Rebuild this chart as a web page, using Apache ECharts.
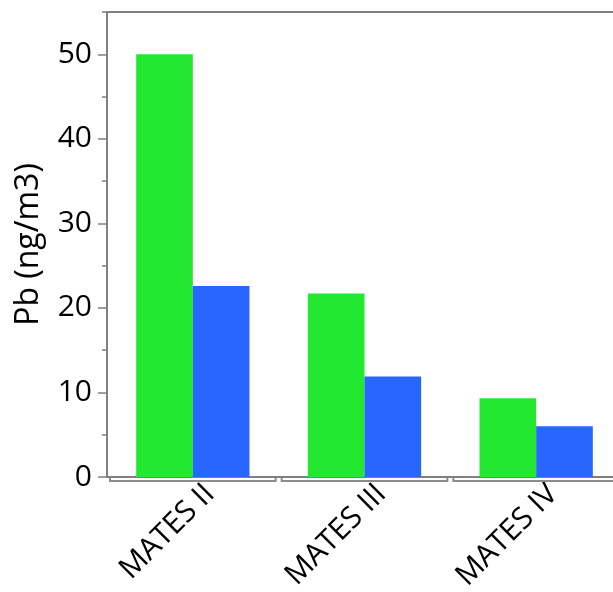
<!DOCTYPE html>
<html>
<head>
<meta charset="utf-8">
<script src="https://cdn.jsdelivr.net/npm/echarts@6/dist/echarts.min.js"></script>
<style>
  html, body { margin: 0; padding: 0; background: #fff; }
  #chart { width: 613px; height: 592px; }
</style>
</head>
<body>
<div id="chart"></div>
<script>
// Lead concentration per study period, two groups per period
const categories = ['MATES II', 'MATES III', 'MATES IV'];
const greenValues = [50.0, 21.7, 9.3];
const blueValues = [22.6, 11.9, 6.0];
const majorTicks = [0, 10, 20, 30, 40, 50];
const minorTicks = [5, 15, 25, 35, 45, 55];

const FONT = '"Open Sans", "Noto Sans", sans-serif';
const AXIS_GRAY = '#808080';

const chart = echarts.init(document.getElementById('chart'), null, { renderer: 'canvas' });

// Bracket drawn under each category band on the x axis
function renderBracket(params, api) {
  const idx = api.value(0);
  const base = api.coord([idx, 0]);
  const band = api.size([1, 0])[0];
  const x0 = base[0] - band / 2 + 3;
  const x1 = base[0] + band / 2 - 3;
  const y0 = base[1] + 1;
  const y1 = base[1] + 4;
  return {
    type: 'polyline',
    shape: { points: [[x0, y0], [x0, y1], [x1, y1], [x1, y0]] },
    style: { stroke: '#8c8c8c', lineWidth: 2, fill: null }
  };
}

chart.setOption({
  animation: false,
  grid: {
    left: 107, top: 12, width: 515, bottom: 115,
    containLabel: false, outerBoundsMode: 'none',
    show: true, borderColor: AXIS_GRAY, borderWidth: 2,
    backgroundColor: 'transparent'
  },
  xAxis: {
    type: 'category',
    data: categories,
    axisLine: { lineStyle: { color: AXIS_GRAY, width: 2 } },
    axisTick: { show: false },
    axisLabel: {
      rotate: 45, margin: 8, color: '#000', verticalAlign: 'top',
      padding: [0, -9, 0, 0],
      fontFamily: FONT, fontSize: 30, interval: 0
    }
  },
  yAxis: [
    {
      type: 'value', min: 0, max: 55,
      name: 'Pb (ng/m3)', nameLocation: 'middle', nameGap: 62,
      nameTextStyle: { color: '#000', fontFamily: FONT, fontSize: 32 },
      axisLine: { show: true, lineStyle: { color: AXIS_GRAY, width: 2 } },
      axisTick: { show: true, length: 9, customValues: majorTicks, lineStyle: { color: AXIS_GRAY, width: 1.5 } },
      axisLabel: { customValues: majorTicks, margin: 15, color: '#000', fontFamily: FONT, fontSize: 30 },
      splitLine: { show: false }
    },
    {
      type: 'value', min: 0, max: 55, position: 'left',
      axisLine: { show: false },
      axisTick: { show: true, length: 5, customValues: minorTicks, lineStyle: { color: AXIS_GRAY, width: 1.5 } },
      axisLabel: { show: false },
      splitLine: { show: false }
    }
  ],
  series: [
    {
      type: 'bar', data: greenValues, yAxisIndex: 0,
      itemStyle: { color: '#22e832' },
      barGap: '0%', barCategoryGap: '34%'
    },
    {
      type: 'bar', data: blueValues, yAxisIndex: 0,
      itemStyle: { color: '#2767ff' },
      barGap: '0%', barCategoryGap: '34%'
    },
    {
      type: 'custom', renderItem: renderBracket, clip: false, silent: true,
      data: categories.map((c, i) => [i, 0]), z: 5
    }
  ]
});
</script>
</body>
</html>
